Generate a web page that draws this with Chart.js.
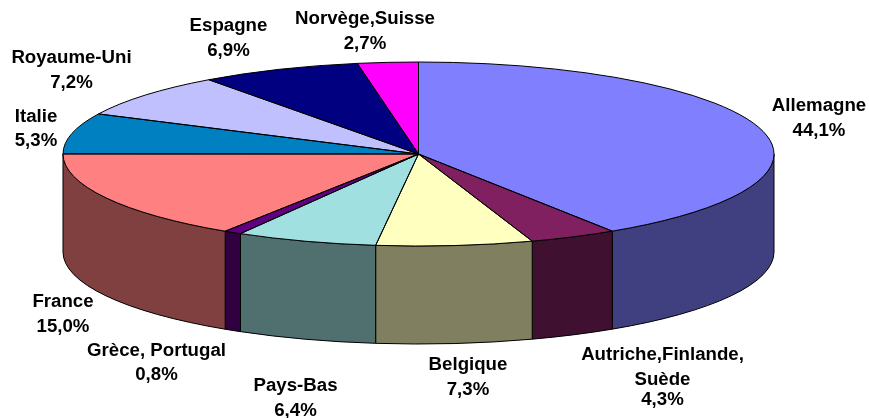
<!DOCTYPE html>
<html>
<head>
<meta charset="utf-8">
<title>Répartition par pays</title>
<style>
	html, body { margin: 0; padding: 0; background: #fff; }
	canvas { display: block; }
</style>
<script src="https://cdn.jsdelivr.net/npm/chart.js@4"></script>
</head>
<body>
<canvas id="chart" width="869" height="418"></canvas>
<script>
const categories = ['Allemagne', 'Autriche,Finlande,\nSuède', 'Belgique', 'Pays-Bas', 'Grèce, Portugal', 'France', 'Italie', 'Royaume-Uni', 'Espagne', 'Norvège,Suisse'];
const shares = [44.1, 4.3, 7.3, 6.4, 0.8, 15.0, 5.3, 7.2, 6.9, 2.7];
const topColors = ['#8080FF', '#802060', '#FFFFC0', '#A0E0E0', '#600080', '#FF8080', '#0080C0', '#C0C0FF', '#000080', '#FF00FF'];
const wallColors = ['#404080', '#401030', '#808060', '#507070', '#300040', '#804040', '#004060', '#606080', '#000040', '#800080'];

// x, then the baseline of each text line
const labelSpots = [
	[819, 111, 136],
	[662.5, 360, 385, 405],
	[468, 370, 395],
	[295.5, 391, 416],
	[156.5, 356, 380],
	[63, 307, 332],
	[36, 122, 146],
	[71.5, 63, 88],
	[228.5, 31, 56],
	[365, 24, 49],
];

const RX = 355.5;
const RY = 92;
const DEPTH = 98;

// the old 3D view bends slices around the rim: angle from the top, true -> seen (degrees)
const bendTable = [[0, 0], [158.8, 147], [174.2, 161.3], [200.5, 186.9], [226.4, 212.9], [280.4, 270], [299.5, 295.8], [325.4, 323.8], [350.3, 350.1], [360, 360]];

const bend = (radians) => {
	const deg = ((radians + Math.PI / 2) * 180) / Math.PI;
	for (var i = 1; i < bendTable.length; i++) {
		const [a0, b0] = bendTable[i - 1];
		const [a1, b1] = bendTable[i];
		if (deg <= a1) {
			return ((b0 + ((deg - a0) / (a1 - a0)) * (b1 - b0)) * Math.PI) / 180 - Math.PI / 2;
		}
	}
	return radians;
};

const squash = (ctx, arc) => {
	ctx.translate(arc.x, arc.y);
	ctx.scale(RX / arc.outerRadius, RY / arc.outerRadius);
	ctx.translate(-arc.x, -arc.y);
};

const pie3d = {
	id: 'pie3d',
	afterDatasetsUpdate(chart) {
		chart.getDatasetMeta(0).data.forEach((arc) => {
			const start = bend(arc.startAngle);
			const end = bend(arc.endAngle);
			arc.startAngle = start;
			arc.endAngle = end;
			arc.circumference = end - start;
		});
	},
	beforeDatasetsDraw(chart) {
		const ctx = chart.ctx;
		ctx.save();
		ctx.lineWidth = 1;
		ctx.strokeStyle = '#000';
		chart.getDatasetMeta(0).data.forEach((arc, i) => {
			const from = Math.max(arc.startAngle, 0);
			const to = Math.min(arc.endAngle, Math.PI);
			if (to <= from) return;
			ctx.beginPath();
			ctx.ellipse(arc.x, arc.y, RX, RY, 0, from, to);
			ctx.lineTo(arc.x + RX * Math.cos(to), arc.y + RY * Math.sin(to) + DEPTH);
			ctx.ellipse(arc.x, arc.y + DEPTH, RX, RY, 0, to, from, true);
			ctx.closePath();
			ctx.fillStyle = wallColors[i];
			ctx.fill();
			ctx.stroke();
		});
		ctx.restore();
		ctx.save();
		squash(ctx, chart.getDatasetMeta(0).data[0]);
	},
	afterDatasetsDraw(chart) {
		const ctx = chart.ctx;
		ctx.restore();
		ctx.save();
		ctx.lineWidth = 1;
		ctx.strokeStyle = '#000';
		chart.getDatasetMeta(0).data.forEach((arc) => {
			ctx.beginPath();
			ctx.moveTo(arc.x, arc.y);
			ctx.lineTo(arc.x + RX * Math.cos(arc.startAngle), arc.y + RY * Math.sin(arc.startAngle));
			ctx.ellipse(arc.x, arc.y, RX, RY, 0, arc.startAngle, arc.endAngle);
			ctx.closePath();
			ctx.stroke();
		});
		ctx.restore();
	},
	afterDraw(chart) {
		const ctx = chart.ctx;
		ctx.save();
		ctx.font = 'bold 18.67px "Liberation Sans", Arial, sans-serif';
		ctx.fillStyle = '#000';
		ctx.textAlign = 'center';
		ctx.textBaseline = 'alphabetic';
		categories.forEach((name, i) => {
			const lines = name.split('\n').concat(shares[i].toFixed(1).replace('.', ',') + '%');
			lines.forEach((line, j) => ctx.fillText(line, labelSpots[i][0], labelSpots[i][j + 1]));
		});
		ctx.restore();
	},
};

new Chart(document.getElementById('chart'), {
	type: 'pie',
	data: {
		labels: categories,
		datasets: [
			{
				data: shares,
				backgroundColor: topColors,
				borderWidth: 0,
				clip: false,
			},
		],
	},
	options: {
		responsive: false,
		animation: false,
		events: [],
		layout: { padding: { left: 0, top: 0, right: 32, bottom: 110 } },
		plugins: { legend: { display: false }, tooltip: { enabled: false } },
	},
	plugins: [pie3d],
});
</script>
</body>
</html>
